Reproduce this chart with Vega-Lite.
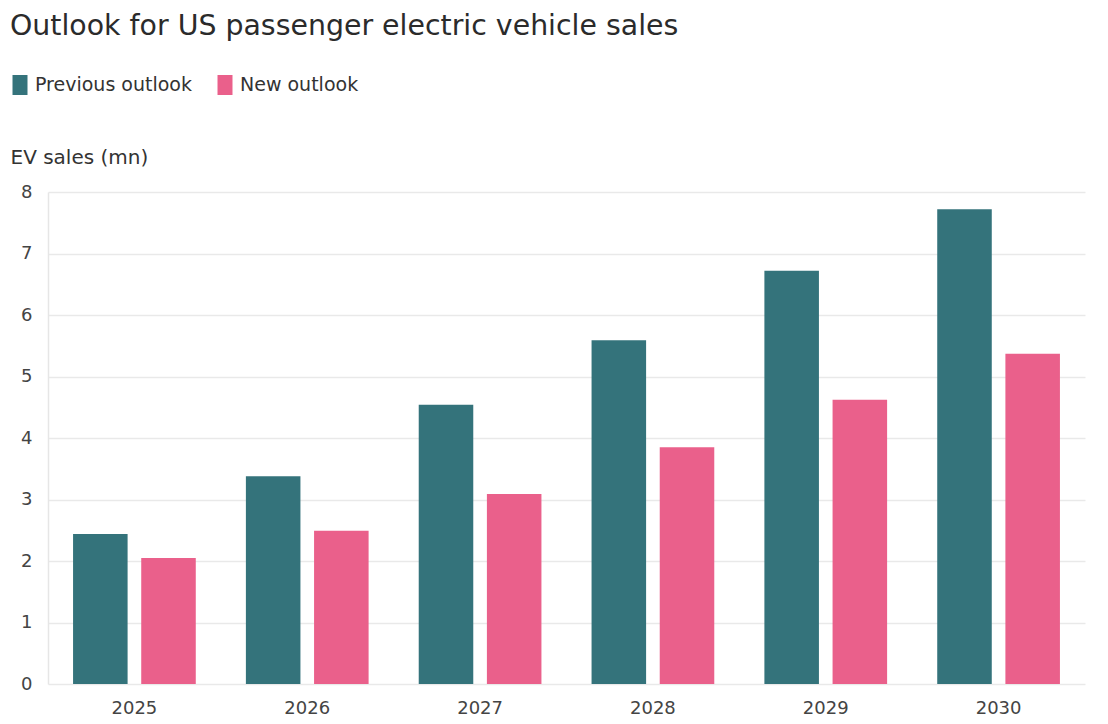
{
  "$schema": "https://vega.github.io/schema/vega-lite/v6.json",
  "width": 1037,
  "height": 492,
  "autosize": {"type": "none"},
  "padding": {"left": 48, "top": 192, "right": 23, "bottom": 40},
  "background": "white",
  "title": {
    "text": "Outlook for US passenger electric vehicle sales",
    "anchor": "start",
    "frame": "group",
    "dx": -38,
    "offset": 12,
    "baseline": "alphabetic",
    "font": "DejaVu Sans",
    "fontSize": 28.4,
    "fontWeight": "normal",
    "color": "#2b2b2b"
  },
  "data": {
    "values": [
      {"year": "2025", "series": "Previous outlook", "value": 2.44},
      {"year": "2025", "series": "New outlook", "value": 2.05},
      {"year": "2026", "series": "Previous outlook", "value": 3.38},
      {"year": "2026", "series": "New outlook", "value": 2.49},
      {"year": "2027", "series": "Previous outlook", "value": 4.54},
      {"year": "2027", "series": "New outlook", "value": 3.09},
      {"year": "2028", "series": "Previous outlook", "value": 5.59},
      {"year": "2028", "series": "New outlook", "value": 3.85},
      {"year": "2029", "series": "Previous outlook", "value": 6.72},
      {"year": "2029", "series": "New outlook", "value": 4.62},
      {"year": "2030", "series": "Previous outlook", "value": 7.72},
      {"year": "2030", "series": "New outlook", "value": 5.37}
    ]
  },
  "mark": {"type": "bar"},
  "encoding": {
    "x": {
      "field": "year",
      "type": "nominal",
      "scale": {"paddingInner": 0.29, "paddingOuter": 0.145},
      "axis": {
        "title": null,
        "labelAngle": 0,
        "domain": false,
        "ticks": false,
        "labelPadding": 15,
        "labelFont": "DejaVu Sans",
        "labelFontSize": 18,
        "labelColor": "#444444"
      }
    },
    "xOffset": {
      "field": "series",
      "type": "nominal",
      "sort": ["Previous outlook", "New outlook"],
      "scale": {"paddingInner": 0.2, "paddingOuter": 0}
    },
    "y": {
      "field": "value",
      "type": "quantitative",
      "scale": {"domain": [0, 8], "nice": false},
      "axis": {
        "title": "EV sales (mn)",
        "titleAngle": 0,
        "titleAlign": "left",
        "titleBaseline": "alphabetic",
        "titleX": -38,
        "titleY": -29,
        "titleFont": "DejaVu Sans",
        "titleFontSize": 20,
        "titleFontWeight": "normal",
        "titleColor": "#333333",
        "values": [0, 1, 2, 3, 4, 5, 6, 7, 8],
        "labelOverlap": false,
        "domain": true,
        "domainColor": "#e6e6e6",
        "domainWidth": 1.5,
        "ticks": false,
        "grid": true,
        "gridColor": "#e9e9e9",
        "gridWidth": 1.5,
        "labelPadding": 16,
        "labelFont": "DejaVu Sans",
        "labelFontSize": 18,
        "labelColor": "#444444"
      }
    },
    "color": {
      "field": "series",
      "type": "nominal",
      "sort": ["Previous outlook", "New outlook"],
      "scale": {"domain": ["Previous outlook", "New outlook"], "range": ["#34737b", "#ea608b"]},
      "legend": {
        "title": null,
        "orient": "none",
        "direction": "horizontal",
        "legendX": -38,
        "legendY": -117,
        "symbolType": "M-0.75,-1H0.75V1H-0.75Z",
        "symbolSize": 400,
        "symbolStrokeWidth": 0,
        "symbolOpacity": 1,
        "labelOffset": 5,
        "columnPadding": 23,
        "labelFont": "DejaVu Sans",
        "labelFontSize": 19,
        "labelColor": "#333333"
      }
    }
  },
  "config": {
    "view": {"stroke": null}
  }
}
